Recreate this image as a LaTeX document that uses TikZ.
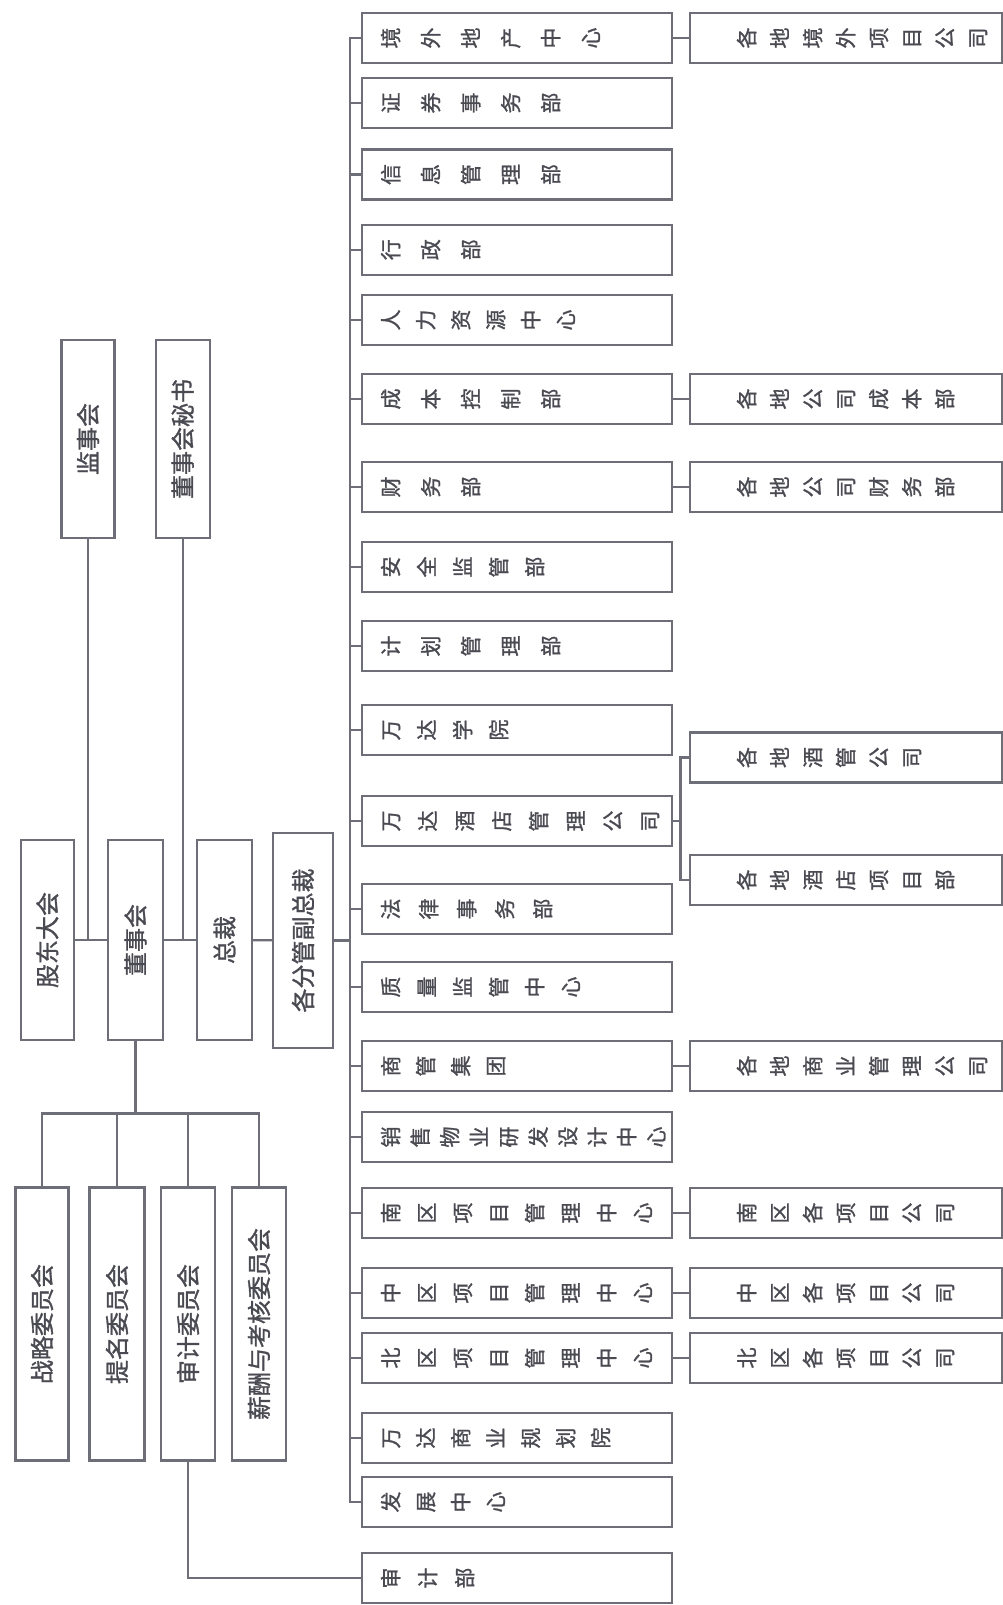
\documentclass[tikz,border=0pt]{standalone}
\usepackage{fontspec}
\setmainfont{Noto Sans CJK SC}[FakeBold=1.2]
\usepackage{graphicx}
\usetikzlibrary{positioning}
\definecolor{frame}{HTML}{6E6E78}
\definecolor{ink}{HTML}{4A4A52}

\makeatletter
% each character turned on its side, set one after another
\newcommand\vchars[2]{\mbox{\def\vc@gap{#1}\expandafter\vc@first#2\@nil}}
\def\vc@one#1{\rotatebox[origin=c]{90}{\rule[-0.12em]{0pt}{1em}#1}}
\def\vc@first#1{\vc@one{#1}\vc@loop}
\def\vc@loop#1{\ifx#1\@nil\else\hspace{\vc@gap}\vc@one{#1}\expandafter\vc@loop\fi}
\makeatother
\newcommand\dtext[2]{\makebox[310pt][l]{\hspace*{18pt}\vchars{#1}{#2}}}
\newcommand\stext[1]{\makebox[312pt][l]{\hspace*{46pt}\vchars{12pt}{#1}}}

\begin{document}
\begin{tikzpicture}[x=1pt, y=-1pt,
    box/.style={draw=frame, line width=2.3pt, text=ink, inner sep=0pt},
    lbox/.style={box, rotate=90, font=\fontsize{24}{24}\selectfont, minimum height=53pt},
    dept/.style={box, anchor=west, minimum height=50pt, font=\fontsize{21}{21}\selectfont},
    sub/.style={dept},
    link/.style={draw=frame, line width=2.3pt, line cap=rect}]
  \useasboundingbox (0,0) rectangle (1003,1605);

  % top of the chart
  \node[lbox, minimum width=200pt] (gd) at (47.3,940) {股东大会};
  \node[lbox, minimum width=200pt, minimum height=55pt] (ds) at (135.5,940) {董事会};
  \node[lbox, minimum width=200pt, minimum height=55pt] (zc) at (224.5,940) {总裁};
  \node[lbox, minimum width=215pt, minimum height=60pt] (fz) at (303,940.5) {各分管副总裁};
  \node[lbox, minimum width=198pt] (js) at (88,439) {监事会};
  \node[lbox, minimum width=198pt, minimum height=54pt] (ms) at (182.7,439) {董事会秘书};

  % committees
  \node[lbox, minimum width=273pt] (zl) at (42,1324) {战略委员会};
  \node[lbox, minimum width=273pt, minimum height=55pt] (tm) at (117,1324) {提名委员会};
  \node[lbox, minimum width=273pt, minimum height=54pt] (sj) at (188,1324) {审计委员会};
  \node[lbox, minimum width=273pt, minimum height=54pt] (xc) at (259,1324) {薪酬与考核委员会};

  % departments
  \foreach \y/\g/\nm [count=\i] in {38/19pt/境外地产中心, 103/19pt/证券事务部,
      174.5/19pt/信息管理部, 249.7/19pt/行政部, 320/14pt/人力资源中心,
      399/19pt/成本控制部, 487/19pt/财务部, 567/15pt/安全监管部,
      646/19pt/计划管理部, 730/15pt/万达学院, 821/16pt/万达酒店管理公司,
      909/17pt/法律事务部, 987/15pt/质量监管中心, 1066/14pt/商管集团,
      1137/8.5pt/销售物业研发设计中心, 1213/15pt/南区项目管理中心,
      1293/15pt/中区项目管理中心, 1358/15pt/北区项目管理中心,
      1438/14pt/万达商业规划院, 1502/14pt/发展中心}
    \node[dept] (d\i) at (361,\y) {\dtext{\g}{\nm}};
  \node[dept] (sjb) at (361,1578) {\dtext{16pt}{审计部}};

  % local companies
  \node[sub] (s1) at (689,38) {\stext{各地境外项目公司}};
  \node[sub] (s2) at (689,399) {\stext{各地公司成本部}};
  \node[sub] (s3) at (689,487) {\stext{各地公司财务部}};
  \node[sub] (s4) at (689,757.5) {\stext{各地酒管公司}};
  \node[sub] (s5) at (689,880) {\stext{各地酒店项目部}};
  \node[sub] (s6) at (689,1066) {\stext{各地商业管理公司}};
  \node[sub] (s7) at (689,1213) {\stext{南区各项目公司}};
  \node[sub] (s8) at (689,1293) {\stext{中区各项目公司}};
  \node[sub] (s9) at (689,1358) {\stext{北区各项目公司}};

  \coordinate (sp) at (350,0);
  \coordinate (hb) at (680.5,0);
  \coordinate (bus) at (0,1113.5);

  \draw[link] (gd) -- (ds);
  \draw[link] (ds) -- (zc);
  \draw[link] (zc) -- (fz);
  \draw[link] (js) -- (js |- gd);
  \draw[link] (ms) -- (ms |- gd);
  \draw[link] (fz) -- (sp |- fz);
  \draw[link] (sp |- d1) -- (sp |- d20);
  \foreach \i in {1,...,20}
    \draw[link] (sp |- d\i) -- (d\i);
  \foreach \a/\b in {d1/s1, d6/s2, d7/s3, d14/s6, d16/s7, d17/s8, d18/s9}
    \draw[link] (\a) -- (\b);
  \draw[link] (d11) -- (hb |- d11);
  \draw[link] (s4) -| (hb |- d11) |- (s5);

  \draw[link] (ds) -- (ds |- bus);
  \draw[link] (zl |- bus) -- (xc |- bus);
  \foreach \c in {zl,tm,sj,xc}
    \draw[link] (\c |- bus) -- (\c);
  \draw[link] (sj) |- (sjb);
\end{tikzpicture}
\end{document}
